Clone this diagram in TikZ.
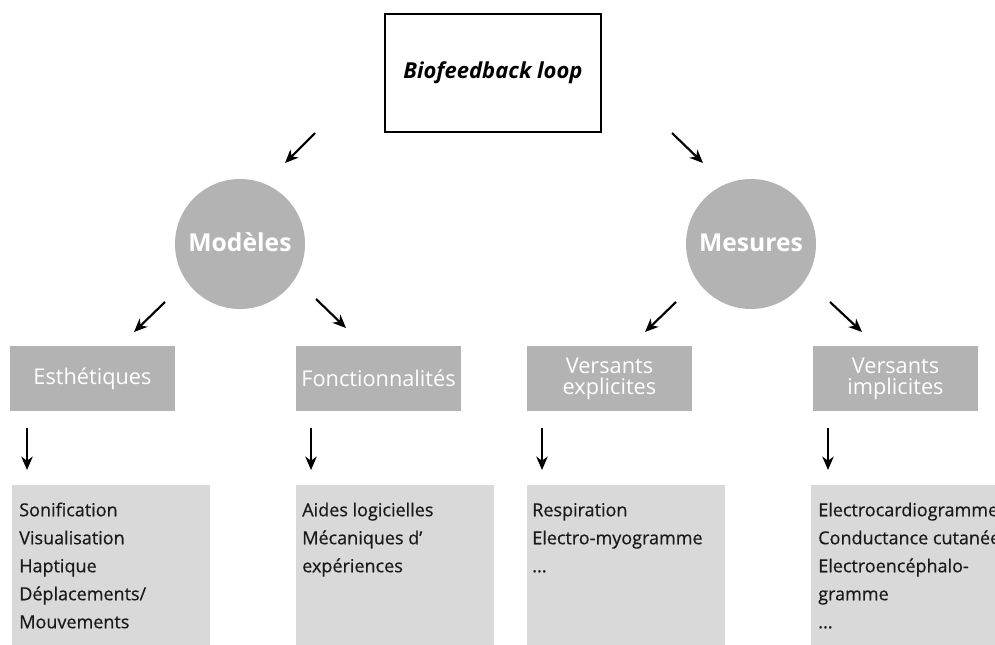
\documentclass[tikz,border=0pt]{standalone}
\usepackage{fontspec}
\setmainfont{Open Sans}
\newfontfamily\semibfont[FakeBold=0.5]{Open Sans}
\usetikzlibrary{arrows.meta}
\definecolor{midgray}{HTML}{B3B3B3}
\definecolor{palegray}{HTML}{D9D9D9}
\definecolor{inkcol}{HTML}{1A1A1A}
\begin{document}
\begin{tikzpicture}[x=0.75pt,y=-0.75pt,
  arr/.style={line width=1.6pt, -{Stealth[length=10pt,width=8.5pt,inset=3pt]}},
  topbox/.style={draw=black, line width=1.3pt, minimum width=162pt, minimum height=88.5pt, inner sep=0},
  bubble/.style={circle, fill=midgray, minimum size=97.5pt, inner sep=0, text=white, font=\fontsize{18.5}{22}\selectfont\bfseries, text depth=0.25em},
  catbox/.style={fill=midgray, minimum width=123.75pt, minimum height=48.75pt, inner sep=0, text=white, align=center, font=\fontsize{16.3}{15.75}\selectfont},
  listbox/.style={fill=palegray, minimum width=148.5pt, minimum height=135pt, inner sep=0, anchor=north west},
  listtext/.style={anchor=north west, inner sep=0, align=left, text=inkcol, font=\fontsize{13.5}{21}\semibfont}
]
\useasboundingbox (0,0) rectangle (995,644);
\clip (0,0) rectangle (995,644);

% top box
\node[topbox, font=\fontsize{16.5}{20}\selectfont\bfseries\itshape] (bio) at (493,73) {Biofeedback loop};

% bubbles
\node[bubble] (mod) at (240,244) {Modèles};
\node[bubble] (mes) at (751,244) {Mesures};

% category boxes
\node[catbox] (est) at (92.5,378.5) {Esthétiques};
\node[catbox] (fon) at (378.5,378.5) {Fonctionnalités};
\node[catbox] (exp) at (609.5,378.5) {Versants\\explicites};
\node[catbox] (imp) at (895.5,378.5) {Versants\\implicites};

% list boxes
\node[listbox] (l1) at (12,485) {};
\node[listbox] (l2) at (296,485) {};
\node[listbox] (l3) at (527,485) {};
\node[listbox] (l4) at (811,485) {};

\node[listtext] (t1) at (19,500) {\rule{0pt}{12pt}Sonification\\Visualisation\\Haptique\\Déplacements/\\Mouvements};
\node[listtext] (t2) at (302,500) {\rule{0pt}{12pt}Aides logicielles\\Mécaniques d’\\expériences};
\node[listtext] (t3) at (532,500) {\rule{0pt}{12pt}Respiration\\Electro-myogramme\\...};
\node[listtext] (t4) at (818,500) {\rule{0pt}{12pt}Electrocardiogramme\\Conductance cutanée\\Electroencéphalo-\\gramme\\...};

% arrow end points
\coordinate (p1s) at (315,133); \coordinate (p1e) at (285,163);
\coordinate (p2s) at (672,133); \coordinate (p2e) at (703,163);
\coordinate (p3s) at (165,302); \coordinate (p3e) at (134,332);
\coordinate (p4s) at (316,299); \coordinate (p4e) at (346,328);
\coordinate (p5s) at (676,302); \coordinate (p5e) at (645,332);
\coordinate (p6s) at (830,302); \coordinate (p6e) at (862,332);
\coordinate (d1s) at (27,428);  \coordinate (d1e) at (27,470);
\coordinate (d2s) at (311,428); \coordinate (d2e) at (311,470);
\coordinate (d3s) at (542,428); \coordinate (d3e) at (542,470);
\coordinate (d4s) at (828,428); \coordinate (d4e) at (828,470);

\draw[arr] (p1s) -- (p1e);
\draw[arr] (p2s) -- (p2e);
\draw[arr] (p3s) -- (p3e);
\draw[arr] (p4s) -- (p4e);
\draw[arr] (p5s) -- (p5e);
\draw[arr] (p6s) -- (p6e);
\draw[arr] (d1s) -- (d1e);
\draw[arr] (d2s) -- (d2e);
\draw[arr] (d3s) -- (d3e);
\draw[arr] (d4s) -- (d4e);
\end{tikzpicture}
\end{document}
